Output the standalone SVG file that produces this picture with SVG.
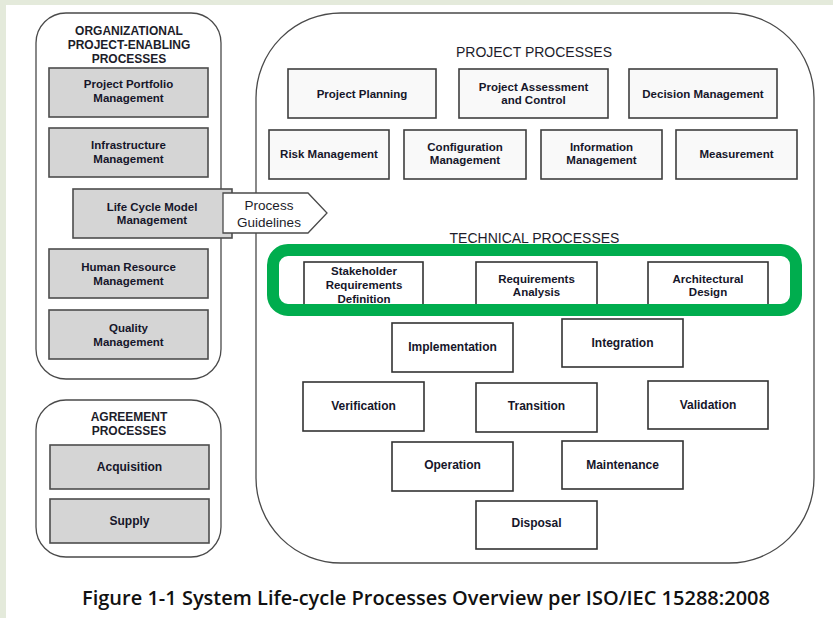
<svg xmlns="http://www.w3.org/2000/svg" width="833" height="618" viewBox="0 0 833 618">
  <style>
    .panel { fill: #ffffff; stroke: #4a4a4a; stroke-width: 1.3; }
    .gbox { fill: #d5d5d5; stroke: #4d4d4d; stroke-width: 1.6; }
    .pbox { fill: #f9f9f9; stroke: #3f3f3f; stroke-width: 1.6; }
    .tbox { fill: #ffffff; stroke: #333333; stroke-width: 1.6; }
    .lbl { font-family: "Liberation Sans", Arial, sans-serif; font-weight: bold; font-size: 11.5px; fill: #16162a; text-anchor: middle; }
    .lbl12 { font-family: "Liberation Sans", Arial, sans-serif; font-weight: bold; font-size: 12px; fill: #16162a; text-anchor: middle; }
    .title { font-family: "Liberation Sans", Arial, sans-serif; font-weight: bold; font-size: 12px; fill: #1d1d2a; text-anchor: middle; }
    .htitle { font-family: "Liberation Sans", Arial, sans-serif; font-size: 14px; fill: #1d1d2a; text-anchor: middle; }
    .guide { font-family: "Liberation Sans", Arial, sans-serif; font-size: 13.5px; fill: #1d1d2a; text-anchor: middle; }
    .cap { font-family: "Open Sans", "Noto Sans", sans-serif; font-weight: 600; font-size: 19.5px; fill: #111111; }
  </style>

  <!-- page background -->
  <rect x="0" y="0" width="833" height="618" fill="#e4eadb"/>
  <rect x="6" y="5" width="827" height="613" fill="#ffffff"/>

  <!-- Organizational project-enabling processes -->
  <g id="org-panel">
    <rect class="panel" x="36" y="13" width="185" height="366" rx="30" ry="30"/>
    <text class="title" x="129" y="35">ORGANIZATIONAL</text>
    <text class="title" x="129" y="49">PROJECT-ENABLING</text>
    <text class="title" x="129" y="63">PROCESSES</text>
  </g>
  <g id="project-portfolio">
    <rect class="gbox" x="49" y="68" width="159" height="49"/>
    <text class="lbl" x="128.5" y="88">Project Portfolio</text>
    <text class="lbl" x="128.5" y="102">Management</text>
  </g>
  <g id="infrastructure">
    <rect class="gbox" x="49" y="128" width="159" height="49"/>
    <text class="lbl" x="128.5" y="149">Infrastructure</text>
    <text class="lbl" x="128.5" y="163">Management</text>
  </g>
  <g id="life-cycle-model">
    <rect class="gbox" x="73" y="189" width="159" height="49"/>
    <text class="lbl" x="152" y="211">Life Cycle Model</text>
    <text class="lbl" x="152" y="224">Management</text>
  </g>
  <g id="human-resource">
    <rect class="gbox" x="49" y="249" width="159" height="49"/>
    <text class="lbl" x="128.5" y="271">Human Resource</text>
    <text class="lbl" x="128.5" y="285">Management</text>
  </g>
  <g id="quality">
    <rect class="gbox" x="49" y="310" width="159" height="49"/>
    <text class="lbl" x="128.5" y="332">Quality</text>
    <text class="lbl" x="128.5" y="346">Management</text>
  </g>

  <!-- Agreement processes -->
  <g id="agreement-panel">
    <rect class="panel" x="36" y="400" width="185" height="157" rx="30" ry="30"/>
    <text class="title" x="129" y="421">AGREEMENT</text>
    <text class="title" x="129" y="435">PROCESSES</text>
  </g>
  <g id="acquisition">
    <rect class="gbox" x="50" y="445" width="159" height="44"/>
    <text class="lbl12" x="129.5" y="471">Acquisition</text>
  </g>
  <g id="supply">
    <rect class="gbox" x="50" y="499" width="159" height="44"/>
    <text class="lbl12" x="129.5" y="525">Supply</text>
  </g>

  <!-- Project and technical processes -->
  <g id="main-panel">
    <rect class="panel" x="256" y="13" width="558" height="550" rx="85" ry="85"/>
    <text class="htitle" x="534" y="57">PROJECT PROCESSES</text>
    <text class="htitle" x="534.5" y="243">TECHNICAL PROCESSES</text>
  </g>

  <g id="project-planning">
    <rect class="pbox" x="288" y="69" width="148" height="49"/>
    <text class="lbl" x="362" y="98">Project Planning</text>
  </g>
  <g id="project-assessment">
    <rect class="pbox" x="459" y="69" width="149" height="49"/>
    <text class="lbl" x="533.5" y="91">Project Assessment</text>
    <text class="lbl" x="533.5" y="104">and Control</text>
  </g>
  <g id="decision-management">
    <rect class="pbox" x="629" y="69" width="148" height="49"/>
    <text class="lbl" x="703" y="98">Decision Management</text>
  </g>
  <g id="risk-management">
    <rect class="pbox" x="269" y="130" width="120" height="49"/>
    <text class="lbl" x="329" y="158">Risk Management</text>
  </g>
  <g id="configuration-management">
    <rect class="pbox" x="404" y="130" width="122" height="49"/>
    <text class="lbl" x="465" y="151">Configuration</text>
    <text class="lbl" x="465" y="164">Management</text>
  </g>
  <g id="information-management">
    <rect class="pbox" x="541" y="130" width="121" height="49"/>
    <text class="lbl" x="601.5" y="151">Information</text>
    <text class="lbl" x="601.5" y="164">Management</text>
  </g>
  <g id="measurement">
    <rect class="pbox" x="676" y="130" width="121" height="49"/>
    <text class="lbl" x="736.5" y="158">Measurement</text>
  </g>

  <g id="stakeholder-requirements">
    <rect class="tbox" x="304" y="262" width="119" height="50"/>
    <text class="lbl" x="364" y="275">Stakeholder</text>
    <text class="lbl" x="364" y="289">Requirements</text>
    <text class="lbl" x="364" y="303">Definition</text>
  </g>
  <g id="requirements-analysis">
    <rect class="tbox" x="476" y="262" width="121" height="50"/>
    <text class="lbl" x="536.5" y="283">Requirements</text>
    <text class="lbl" x="536.5" y="296">Analysis</text>
  </g>
  <g id="architectural-design">
    <rect class="tbox" x="648" y="262" width="120" height="50"/>
    <text class="lbl" x="708" y="283">Architectural</text>
    <text class="lbl" x="708" y="296">Design</text>
  </g>

  <!-- highlight around the requirements/design group -->
  <g id="highlight">
    <rect x="273" y="250" width="523" height="60" rx="15" ry="15" fill="none" stroke="#00ad4e" stroke-width="12"/>
  </g>

  <g id="implementation">
    <rect class="tbox" x="392" y="323" width="121" height="49"/>
    <text class="lbl12" x="452.5" y="351">Implementation</text>
  </g>
  <g id="integration">
    <rect class="tbox" x="562" y="319" width="121" height="48"/>
    <text class="lbl12" x="622.5" y="347">Integration</text>
  </g>
  <g id="verification">
    <rect class="tbox" x="303" y="382" width="121" height="49"/>
    <text class="lbl12" x="363.5" y="410">Verification</text>
  </g>
  <g id="transition">
    <rect class="tbox" x="476" y="383" width="121" height="49"/>
    <text class="lbl12" x="536.5" y="410">Transition</text>
  </g>
  <g id="validation">
    <rect class="tbox" x="648" y="381" width="120" height="48"/>
    <text class="lbl12" x="708" y="409">Validation</text>
  </g>
  <g id="operation">
    <rect class="tbox" x="392" y="442" width="121" height="49"/>
    <text class="lbl12" x="452.5" y="469">Operation</text>
  </g>
  <g id="maintenance">
    <rect class="tbox" x="562" y="441" width="121" height="48"/>
    <text class="lbl12" x="622.5" y="469">Maintenance</text>
  </g>
  <g id="disposal">
    <rect class="tbox" x="476" y="501" width="121" height="48"/>
    <text class="lbl12" x="536.5" y="527">Disposal</text>
  </g>

  <!-- Process Guidelines flag from Life Cycle Model Management -->
  <g id="process-guidelines">
    <polygon points="223,193 308,193 327,213 308,233 223,233" fill="#ffffff" stroke="#4a4a4a" stroke-width="1.3"/>
    <text class="guide" x="269" y="210">Process</text>
    <text class="guide" x="269" y="227">Guidelines</text>
  </g>

  <g id="connectors"/>

  <text class="cap" x="82" y="605" textLength="688" lengthAdjust="spacingAndGlyphs">Figure 1-1 System Life-cycle Processes Overview per ISO/IEC 15288:2008</text>
</svg>
